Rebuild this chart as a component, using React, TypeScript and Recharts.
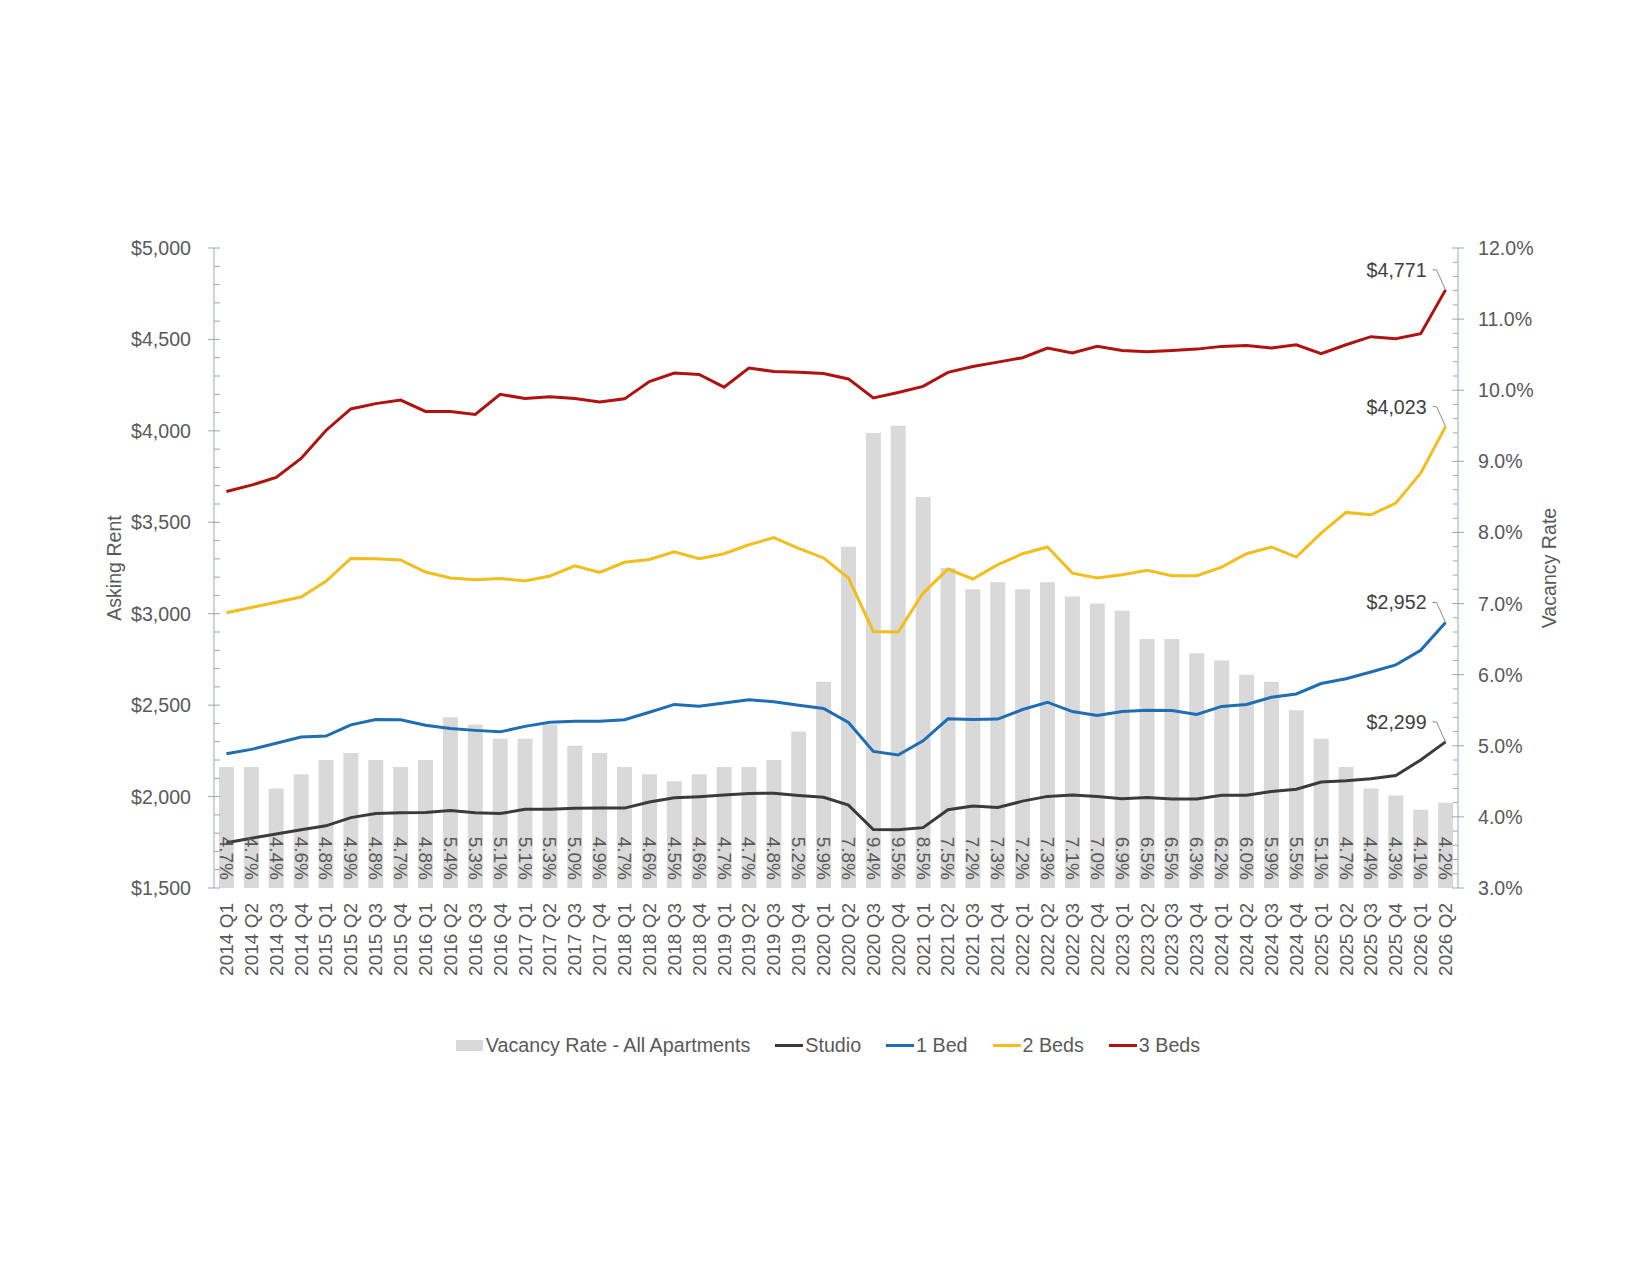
import React from 'react';
import { ComposedChart, Bar, Line, XAxis, YAxis, Legend, LabelList } from 'recharts';

const categories = [
  '2014 Q1', '2014 Q2', '2014 Q3', '2014 Q4',
  '2015 Q1', '2015 Q2', '2015 Q3', '2015 Q4',
  '2016 Q1', '2016 Q2', '2016 Q3', '2016 Q4',
  '2017 Q1', '2017 Q2', '2017 Q3', '2017 Q4',
  '2018 Q1', '2018 Q2', '2018 Q3', '2018 Q4',
  '2019 Q1', '2019 Q2', '2019 Q3', '2019 Q4',
  '2020 Q1', '2020 Q2', '2020 Q3', '2020 Q4',
  '2021 Q1', '2021 Q2', '2021 Q3', '2021 Q4',
  '2022 Q1', '2022 Q2', '2022 Q3', '2022 Q4',
  '2023 Q1', '2023 Q2', '2023 Q3', '2023 Q4',
  '2024 Q1', '2024 Q2', '2024 Q3', '2024 Q4',
  '2025 Q1', '2025 Q2', '2025 Q3', '2025 Q4',
  '2026 Q1', '2026 Q2',
];

const vacancyRate = [
  4.7, 4.7, 4.4, 4.6, 4.8, 4.9, 4.8, 4.7, 4.8, 5.4, 5.3, 5.1, 5.1, 5.3, 5.0, 4.9,
  4.7, 4.6, 4.5, 4.6, 4.7, 4.7, 4.8, 5.2, 5.9, 7.8, 9.4, 9.5, 8.5, 7.5, 7.2, 7.3,
  7.2, 7.3, 7.1, 7.0, 6.9, 6.5, 6.5, 6.3, 6.2, 6.0, 5.9, 5.5, 5.1, 4.7, 4.4, 4.3,
  4.1, 4.2,
];

const studio = [
  1747, 1772, 1795, 1818, 1840, 1885, 1907, 1911, 1913, 1924, 1911, 1907, 1930, 1930, 1936, 1937,
  1937, 1970, 1993, 1999, 2008, 2017, 2018, 2006, 1996, 1953, 1820, 1819, 1830, 1928, 1949, 1940,
  1975, 2001, 2008, 2000, 1988, 1995, 1987, 1987, 2007, 2007, 2028, 2040, 2080, 2086, 2097, 2115,
  2200, 2299,
];

const oneBed = [
  2234, 2258, 2292, 2326, 2331, 2392, 2421, 2420, 2390, 2372, 2362, 2354, 2384, 2407, 2412, 2412,
  2420, 2461, 2504, 2494, 2512, 2529, 2519, 2499, 2482, 2405, 2247, 2227, 2305, 2425, 2421, 2424,
  2476, 2516, 2465, 2444, 2465, 2472, 2471, 2449, 2493, 2504, 2543, 2561, 2618, 2644, 2681, 2720,
  2800, 2952,
];

const twoBeds = [
  3005, 3034, 3063, 3091, 3177, 3302, 3301, 3294, 3228, 3195, 3186, 3193, 3179, 3206, 3262, 3226,
  3281, 3297, 3339, 3301, 3328, 3377, 3416, 3357, 3305, 3195, 2903, 2900, 3113, 3244, 3190, 3268,
  3328, 3365, 3222, 3195, 3213, 3237, 3208, 3208, 3255, 3328, 3365, 3310, 3441, 3554, 3541, 3605,
  3769, 4023,
];

const threeBeds = [
  3668, 3703, 3745, 3849, 4002, 4120, 4149, 4168, 4106, 4106, 4090, 4200, 4177, 4187, 4177, 4158,
  4175, 4270, 4316, 4308, 4239, 4343, 4325, 4320, 4314, 4284, 4180, 4210, 4243, 4320, 4352, 4376,
  4400, 4453, 4426, 4462, 4440, 4433, 4440, 4447, 4462, 4467, 4453, 4471, 4422, 4471, 4515, 4504,
  4531, 4771,
];

const rentTicks = [
  1500, 1600, 1700, 1800, 1900, 2000, 2100, 2200, 2300, 2400, 2500, 2600, 2700, 2800, 2900,
  3000, 3100, 3200, 3300, 3400, 3500, 3600, 3700, 3800, 3900, 4000, 4100, 4200, 4300, 4400,
  4500, 4600, 4700, 4800, 4900, 5000,
];
const rentMajorTicks = [1500, 2000, 2500, 3000, 3500, 4000, 4500, 5000];

const vacancyTicks = [
  3.0, 3.2, 3.4, 3.6, 3.8, 4.0, 4.2, 4.4, 4.6, 4.8, 5.0, 5.2, 5.4, 5.6, 5.8, 6.0,
  6.2, 6.4, 6.6, 6.8, 7.0, 7.2, 7.4, 7.6, 7.8, 8.0, 8.2, 8.4, 8.6, 8.8, 9.0, 9.2,
  9.4, 9.6, 9.8, 10.0, 10.2, 10.4, 10.6, 10.8, 11.0, 11.2, 11.4, 11.6, 11.8, 12.0,
];
const vacancyMajorTicks = [3, 4, 5, 6, 7, 8, 9, 10, 11, 12];

const seriesNames = {
  vacancy: 'Vacancy Rate - All Apartments',
  studio: 'Studio',
  oneBed: '1 Bed',
  twoBeds: '2 Beds',
  threeBeds: '3 Beds',
};

const COLORS = {
  bar: '#D9D9D9',
  studio: '#3B3B3B',
  oneBed: '#1F6DB3',
  twoBeds: '#F2BD1D',
  threeBeds: '#B0120F',
  axis: '#93A9BF',
  text: '#595959',
  leader: '#8C8C8C',
};

const FONT = '"Liberation Sans", Arial, sans-serif';
const FS = 19;
const FS_AXIS = 19.6;
const FS_LEGEND = 19.7;

const data = categories.map((cat, i) => ({
  cat,
  vacancy: vacancyRate[i],
  studio: studio[i],
  oneBed: oneBed[i],
  twoBeds: twoBeds[i],
  threeBeds: threeBeds[i],
}));

const isMajor = (v: number, majors: number[]) => majors.some((m) => Math.abs(m - v) < 1e-6);

const LeftTick = (props: any) => {
  const { x, y, payload } = props;
  const v = payload.value as number;
  const major = isMajor(v, rentMajorTicks);
  return (
    <g>
      <line x1={major ? x - 6 : x} x2={x + 6} y1={y} y2={y} stroke={COLORS.axis} strokeWidth={1} />
      {major && (
        <text x={x - 23} y={y} textAnchor="end" dominantBaseline="central" fill={COLORS.text} fontSize={FS_AXIS} fontFamily={FONT}>
          {'$' + v.toLocaleString('en-US')}
        </text>
      )}
    </g>
  );
};

const RightTick = (props: any) => {
  const { x, y, payload } = props;
  const v = payload.value as number;
  const major = isMajor(v, vacancyMajorTicks);
  return (
    <g>
      <line x1={major ? x - 6 : x - 5} x2={major ? x + 6 : x} y1={y} y2={y} stroke={COLORS.axis} strokeWidth={1} />
      {major && (
        <text x={x + 20} y={y} textAnchor="start" dominantBaseline="central" fill={COLORS.text} fontSize={FS_AXIS} fontFamily={FONT}>
          {v.toFixed(1) + '%'}
        </text>
      )}
    </g>
  );
};

const CatTick = (props: any) => {
  const { x, y, payload } = props;
  const ty = y + 15;
  return (
    <text
      x={x}
      y={ty}
      transform={`rotate(-90, ${x}, ${ty})`}
      textAnchor="end"
      dominantBaseline="central"
      fill={COLORS.text}
      fontSize={FS}
      fontFamily={FONT}
    >
      {payload.value}
    </text>
  );
};

const BarValueLabel = (props: any) => {
  const { x, y, width, height, value } = props;
  const cx = x + width / 2;
  const by = y + height - 8;
  return (
    <text
      x={cx}
      y={by}
      transform={`rotate(90, ${cx}, ${by})`}
      textAnchor="end"
      dominantBaseline="central"
      fill={COLORS.text}
      fontSize={FS}
      fontFamily={FONT}
    >
      {Number(value).toFixed(1) + '%'}
    </text>
  );
};

const EndLabel = (props: any) => {
  const { x, y, value, index } = props;
  if (index !== categories.length - 1) return null;
  return (
    <g>
      <polyline
        points={`${x - 13},${y - 20} ${x - 9},${y - 20} ${x},${y}`}
        fill="none"
        stroke={COLORS.leader}
        strokeWidth={1}
      />
      <text x={x - 19} y={y - 20} textAnchor="end" dominantBaseline="central" fill="#404040" fontSize={FS_AXIS} fontFamily={FONT}>
        {'$' + Number(value).toLocaleString('en-US')}
      </text>
    </g>
  );
};

const LegendContent = () => {
  const items = [
    { key: 'vacancy', type: 'rect', color: COLORS.bar },
    { key: 'studio', type: 'line', color: COLORS.studio },
    { key: 'oneBed', type: 'line', color: COLORS.oneBed },
    { key: 'twoBeds', type: 'line', color: COLORS.twoBeds },
    { key: 'threeBeds', type: 'line', color: COLORS.threeBeds },
  ];
  return (
    <div
      style={{
        height: 40,
        display: 'flex',
        justifyContent: 'center',
        alignItems: 'center',
        fontFamily: FONT,
        fontSize: FS_LEGEND,
        color: COLORS.text,
        paddingRight: 16,
      }}
    >
      {items.map((it, i) => (
        <div key={it.key} style={{ display: 'flex', alignItems: 'center', marginLeft: i === 0 ? 0 : 25 }}>
          {it.type === 'rect' ? (
            <span style={{ display: 'inline-block', width: 27, height: 11, background: it.color, marginRight: 3 }} />
          ) : (
            <span style={{ display: 'inline-block', width: 28, height: 3, background: it.color, marginRight: 2 }} />
          )}
          <span>{(seriesNames as any)[it.key]}</span>
        </div>
      ))}
    </div>
  );
};

const LeftTitle = (props: any) => {
  const vb = props.viewBox || {};
  const cy = (vb.y ?? 240) + (vb.height ?? 640) / 2;
  const cx = 105.6;
  return (
    <text x={cx} y={cy} transform={`rotate(-90, ${cx}, ${cy})`} textAnchor="middle" dominantBaseline="central" fill={COLORS.text} fontSize={FS_AXIS} fontFamily={FONT}>
      Asking Rent
    </text>
  );
};

const RightTitle = (props: any) => {
  const vb = props.viewBox || {};
  const cy = (vb.y ?? 240) + (vb.height ?? 640) / 2;
  const cx = 1540.5;
  return (
    <text x={cx} y={cy} transform={`rotate(-90, ${cx}, ${cy})`} textAnchor="middle" dominantBaseline="central" fill={COLORS.text} fontSize={FS_AXIS} fontFamily={FONT}>
      Vacancy Rate
    </text>
  );
};

export default function App() {
  return (
    <div style={{ width: 1634, height: 1100, background: '#fff', fontFamily: FONT }}>
      <ComposedChart
        width={1634}
        height={1100}
        data={data}
        margin={{ top: 240, right: 84, bottom: 43, left: 106 }}
        barCategoryGap="20%"
      >
        <XAxis
          dataKey="cat"
          xAxisId="x"
          interval={0}
          tick={<CatTick />}
          tickLine={false}
          axisLine={false}
          tickSize={0}
          tickMargin={0}
          height={137}
        />
        <YAxis
          yAxisId="rent"
          orientation="left"
          type="number"
          domain={[1500, 5000]}
          ticks={rentTicks}
          interval={0}
          width={100}
          tick={<LeftTick />}
          tickLine={false}
          tickSize={0}
          tickMargin={0}
          axisLine={{ stroke: COLORS.axis, strokeWidth: 1 }}
          allowDataOverflow
          label={{ content: (p: any) => <LeftTitle {...p} /> }}
        />
        <YAxis
          yAxisId="vac"
          orientation="right"
          type="number"
          domain={[3, 12]}
          ticks={vacancyTicks}
          interval={0}
          width={100}
          tick={<RightTick />}
          tickLine={false}
          tickSize={0}
          tickMargin={0}
          axisLine={{ stroke: COLORS.axis, strokeWidth: 1 }}
          allowDataOverflow
          label={{ content: (p: any) => <RightTitle {...p} /> }}
        />
        <Legend verticalAlign="bottom" align="center" content={<LegendContent />} />
        <Bar
          dataKey="vacancy"
          name={seriesNames.vacancy}
          xAxisId="x"
          yAxisId="vac"
          fill={COLORS.bar}
          isAnimationActive={false}
        >
          <LabelList dataKey="vacancy" content={<BarValueLabel />} />
        </Bar>
        <Line dataKey="studio" name={seriesNames.studio} xAxisId="x" yAxisId="rent" type="linear" stroke={COLORS.studio} strokeWidth={3} dot={false} activeDot={false} isAnimationActive={false}>
          <LabelList dataKey="studio" content={<EndLabel />} />
        </Line>
        <Line dataKey="oneBed" name={seriesNames.oneBed} xAxisId="x" yAxisId="rent" type="linear" stroke={COLORS.oneBed} strokeWidth={3} dot={false} activeDot={false} isAnimationActive={false}>
          <LabelList dataKey="oneBed" content={<EndLabel />} />
        </Line>
        <Line dataKey="twoBeds" name={seriesNames.twoBeds} xAxisId="x" yAxisId="rent" type="linear" stroke={COLORS.twoBeds} strokeWidth={3} dot={false} activeDot={false} isAnimationActive={false}>
          <LabelList dataKey="twoBeds" content={<EndLabel />} />
        </Line>
        <Line dataKey="threeBeds" name={seriesNames.threeBeds} xAxisId="x" yAxisId="rent" type="linear" stroke={COLORS.threeBeds} strokeWidth={3} dot={false} activeDot={false} isAnimationActive={false}>
          <LabelList dataKey="threeBeds" content={<EndLabel />} />
        </Line>
      </ComposedChart>
    </div>
  );
}
